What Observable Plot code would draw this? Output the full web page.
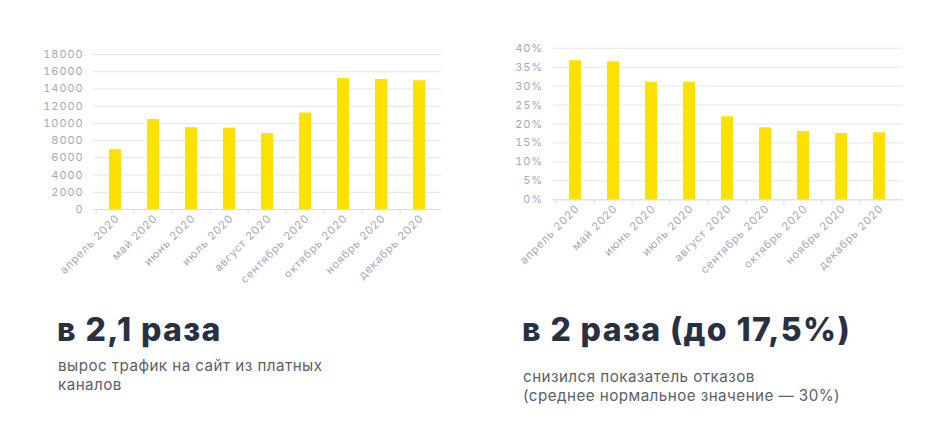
<!DOCTYPE html>
<html>
<head>
<meta charset="utf-8">
<script src="https://cdn.jsdelivr.net/npm/d3@7"></script>
<script src="https://cdn.jsdelivr.net/npm/@observablehq/plot@0.6"></script>
<style>
  html, body { margin: 0; padding: 0; background: #fff; }
  body { width: 940px; height: 426px; position: relative; overflow: hidden; font-family: Inter, "Noto Sans", sans-serif; }
  .chart { position: absolute; top: 0; }
  .head { position: absolute; font-family: Inter, sans-serif; font-weight: 800; font-size: 32px; color: #283043; line-height: 40px; letter-spacing: 1.4px; white-space: nowrap; }
  .sub { position: absolute; font-family: Inter, sans-serif; font-weight: 400; font-size: 15.2px; color: #5a5f69; line-height: 19px; letter-spacing: 0.45px; white-space: nowrap; }
</style>
</head>
<body>
<div id="left" class="chart" style="left:0px"></div>
<div id="right" class="chart" style="left:470px"></div>
<div class="head" id="h1" style="left:57px; top:310px">в 2,1 раза</div>
<div class="sub" id="s1" style="left:58px; top:356px">вырос трафик на сайт из платных<br>каналов</div>
<div class="head" id="h2" style="left:522px; top:310px">в 2 раза (до 17,5%)</div>
<div class="sub" id="s2" style="left:523px; top:367px">снизился показатель отказов<br>(среднее нормальное значение — 30%)</div>
<script>
const months = ["апрель 2020", "май 2020", "июнь 2020", "июль 2020", "август 2020", "сентябрь 2020", "октябрь 2020", "ноябрь 2020", "декабрь 2020"];
const traffic = [6950, 10450, 9500, 9450, 8800, 11200, 15200, 15100, 14950];
const bounce = [36.7, 36.4, 31.0, 31.0, 21.9, 19.0, 18.0, 17.5, 17.7];
const trafficTicks = [0, 2000, 4000, 6000, 8000, 10000, 12000, 14000, 16000, 18000];
const bounceTicks = [0, 5, 10, 15, 20, 25, 30, 35, 40];

const BAR = "#ffe100";
const GRID = "#e3e5ee";
const TICK = "#a4a9bb";

function makeChart(values, ticks, fmt, margins) {
  const data = months.map((m, i) => ({month: m, value: values[i]}));
  const W = 470, H = 290;
  const innerW = W - margins.left - margins.right;
  const step = innerW / months.length;
  return Plot.plot({
    width: W,
    height: H,
    marginLeft: margins.left,
    marginRight: margins.right,
    marginTop: margins.top,
    marginBottom: margins.bottom,
    style: {fontFamily: "Inter, 'Noto Sans', sans-serif", fontSize: "11px", letterSpacing: "0.9px", color: TICK, background: "transparent"},
    x: {domain: months, paddingInner: 0.68, paddingOuter: 0.34, label: null},
    y: {domain: [ticks[0], ticks[ticks.length - 1]], label: null},
    marks: [
      Plot.gridY(ticks, {stroke: GRID, strokeOpacity: 1, strokeWidth: 1}),
      Plot.ruleY([0], {stroke: "#d9dce6", strokeWidth: 1}),
      Plot.axisY(ticks, {tickSize: 0, tickPadding: 10, tickFormat: fmt, fill: TICK, fontSize: 11, label: null}),
      Plot.axisX({tickSize: 5, tickFormat: () => "", stroke: "#d9dce6", dx: -step / 2, label: null}),
      Plot.axisX({tickSize: 0, tickRotate: -45, tickPadding: 7, fill: TICK, fontSize: 11, label: null, dx: 2}),
      Plot.barY(data, {x: "month", y: "value", fill: BAR})
    ]
  });
}

document.getElementById("left").append(
  makeChart(traffic, trafficTicks, d => String(d), {left: 93, right: 29, top: 54, bottom: 81})
);
document.getElementById("right").append(
  makeChart(bounce, bounceTicks, d => d + "%", {left: 82.5, right: 37.5, top: 47.7, bottom: 90.7})
);
</script>
</body>
</html>
